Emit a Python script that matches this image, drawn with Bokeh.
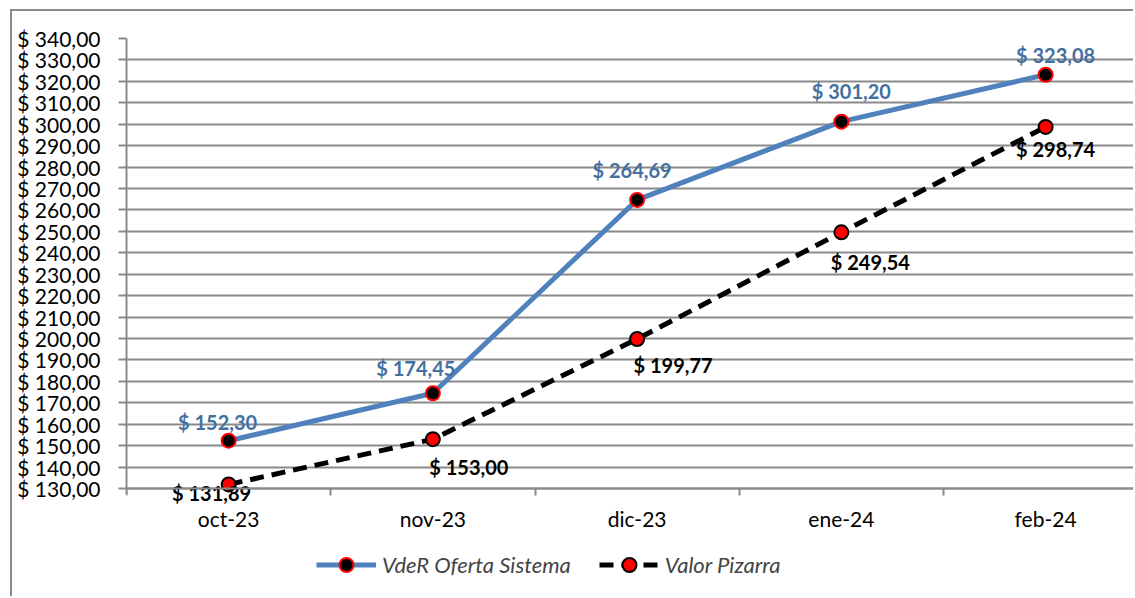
from bokeh.plotting import figure
from bokeh.models import (ColumnDataSource, Range1d, FixedTicker, Legend, LegendItem)
from bokeh.core.properties import value
from bokeh.embed import file_html
from bokeh.resources import INLINE

months = ["oct-23", "nov-23", "dic-23", "ene-24", "feb-24"]
vder = [152.30, 174.45, 264.69, 301.20, 323.08]
pizarra = [131.89, 153.00, 199.77, 249.54, 298.74]
y_ticks = list(range(130, 341, 10))
y_tick_labels = ["$ %d,00" % t for t in y_ticks]
vder_labels = ["$ " + ("%.2f" % v).replace(".", ",") for v in vder]
pizarra_labels = ["$ " + ("%.2f" % v).replace(".", ",") for v in pizarra]

# label placement offsets (pixels)
vder_dx = [-11, -17, -5, 10, 10]
vder_dy = [-19, -25, -30, -31, -20]
piz_dx = [-17, 36, 36, 29, 10]
piz_dy = [9, 28, 26, 30, 22]

xs = list(range(len(months)))
src_v = ColumnDataSource(dict(x=xs, y=vder, t=vder_labels, dx=vder_dx, dy=vder_dy))
src_p = ColumnDataSource(dict(x=xs, y=pizarra, t=pizarra_labels, dx=piz_dx, dy=piz_dy))

FONT = "Lato"
GRAY = "#8a8a8a"

Y_MIN, Y_MAX = 130, 340
TOP = 27
FRAME_H = 587 - TOP    # frame reaches the bottom of the canvas (legend lives inside it)
SPAN_PX = 450          # pixels between 130 and 340
y_start = Y_MAX - FRAME_H * (Y_MAX - Y_MIN) / SPAN_PX

p = figure(width=1123, height=587, output_backend="svg", toolbar_location=None,
           x_range=Range1d(-0.5, 4.44), y_range=Range1d(y_start, Y_MAX),
           min_border_left=114, min_border_top=TOP, min_border_right=0,
           min_border_bottom=0)
p.styles = {"margin-left": "10px", "margin-top": "9px",
            "border-left": "2px solid " + GRAY, "border-top": "2px solid " + GRAY}
p.outline_line_color = None
p.background_fill_color = "white"
p.border_fill_color = "white"

# axes
p.yaxis.ticker = FixedTicker(ticks=y_ticks)
p.yaxis.bounds = (Y_MIN - 2.8, Y_MAX)
p.yaxis.major_label_overrides = {t: l for t, l in zip(y_ticks, y_tick_labels)}
p.yaxis.major_label_text_font = FONT
p.yaxis.major_label_text_font_size = "21px"
p.yaxis.major_label_text_color = "black"
p.yaxis.axis_line_color = GRAY
p.yaxis.axis_line_width = 2
p.yaxis.major_tick_line_color = GRAY
p.yaxis.major_tick_line_width = 2
p.yaxis.major_tick_out = 8
p.yaxis.major_tick_in = 0
p.yaxis.minor_tick_line_color = None
p.yaxis.major_label_standoff = 18

p.xaxis.fixed_location = Y_MIN
p.xaxis.ticker = FixedTicker(ticks=xs, minor_ticks=[i - 0.5 for i in range(len(months) + 1)])
p.xaxis.major_label_overrides = {i: m for i, m in enumerate(months)}
p.xaxis.major_label_text_font = FONT
p.xaxis.major_label_text_font_size = "21px"
p.xaxis.major_label_text_color = "black"
p.xaxis.axis_line_color = GRAY
p.xaxis.axis_line_width = 2
p.xaxis.major_tick_line_color = None
p.xaxis.minor_tick_line_color = GRAY
p.xaxis.minor_tick_line_width = 2
p.xaxis.minor_tick_out = 7
p.xaxis.minor_tick_in = 0
p.xaxis.major_label_standoff = 10

p.xgrid.grid_line_color = None
p.ygrid.ticker = FixedTicker(ticks=y_ticks)
p.ygrid.grid_line_color = GRAY
p.ygrid.grid_line_width = 2

# series
l1 = p.line("x", "y", source=src_v, line_color="#4F81BD", line_width=5)
s1 = p.scatter("x", "y", source=src_v, size=14, fill_color="black",
               line_color="#FF0000", line_width=2)
l2 = p.line("x", "y", source=src_p, line_color="black", line_width=5, line_dash="14 8")
s2 = p.scatter("x", "y", source=src_p, size=14, fill_color="#FF0000",
               line_color="black", line_width=2)

p.text("x", "y", text="t", source=src_v, x_offset="dx", y_offset="dy",
       text_align="center", text_baseline="middle", text_font=value(FONT),
       text_font_style="bold", text_font_size="20px", text_color="#44709F")
p.text("x", "y", text="t", source=src_p, x_offset="dx", y_offset="dy",
       text_align="center", text_baseline="middle", text_font=value(FONT),
       text_font_style="bold", text_font_size="20px", text_color="black")

legend = Legend(items=[LegendItem(label="VdeR Oferta Sistema", renderers=[l1, s1]),
                       LegendItem(label="Valor Pizarra", renderers=[l2, s2])],
                orientation="horizontal", location=(190, 16),
                label_text_font=FONT, label_text_font_style="italic",
                label_text_font_size="22px", glyph_width=60, glyph_height=35,
                spacing=28, label_standoff=6, padding=4, margin=0,
                border_line_color=None, background_fill_alpha=0)
p.add_layout(legend)

open("out.html", "w").write(file_html(p, INLINE))
